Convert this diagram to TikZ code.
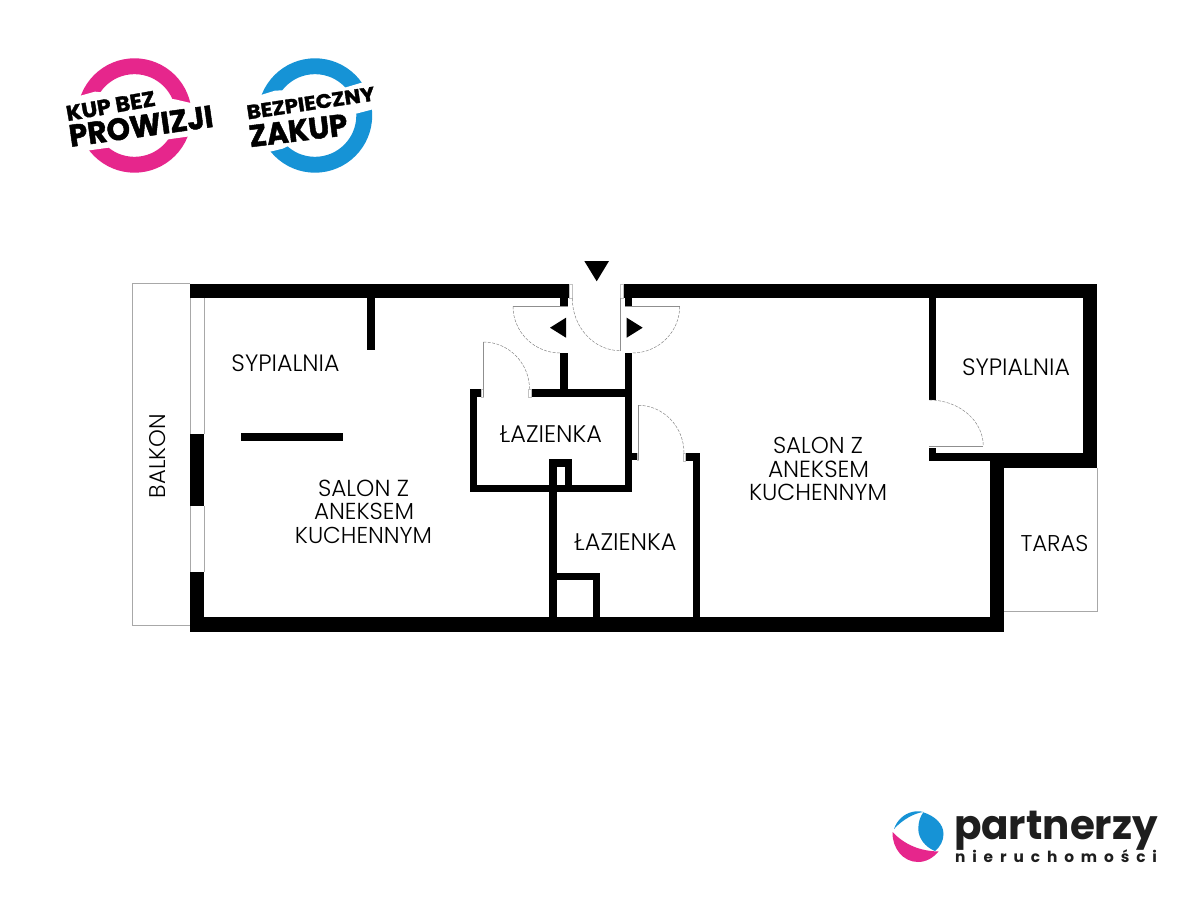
\documentclass[tikz,border=0pt]{standalone}
\usepackage{fontspec}
\usepackage{graphicx}
\setmainfont{Poppins}
\newfontfamily\labfont{Poppins Light}
\newfontfamily\logofont[BoldFeatures={FakeBold=1.5}]{Poppins}
\newfontfamily\brandfont{Poppins}
\definecolor{pinkring}{HTML}{E6268C}
\definecolor{bluering}{HTML}{1693D6}
\definecolor{thin}{HTML}{A8A8A8}
\definecolor{logoblack}{HTML}{1E1E1E}
\newcommand{\wall}[4]{\fill[black] (#1,#2) rectangle (#3,#4);}
\newcommand{\jamb}[4]{\draw[thin!70,line width=.35pt,fill=white] (#1,#2) rectangle (#3,#4);}
\newcommand{\roomlabel}[5]{\node[labelnode,rotate=#5] (#1) at #2 {\resizebox{#3pt}{!}{\labfont #4}};}
\newcommand{\ringlabel}[6]{\node[labelnode,rotate=#5] (#1) at #2 {\resizebox{#3pt}{#6pt}{\logofont\bfseries #4}};}
\tikzset{
  labelnode/.style={inner sep=0pt,outer sep=0pt,text=black},
  thinline/.style={draw=thin,line width=.7pt},
  doorleaf/.style={draw=thin!85!black,line width=.55pt},
  doorarc/.style={draw=thin!75!black,line width=.45pt,dash pattern=on 3pt off 1.4pt},
}
\begin{document}
\begin{tikzpicture}[x=1pt,y=-1pt]
\useasboundingbox (0,0) rectangle (1200,900);
\fill[white] (0,0) rectangle (1200,900);

% ---- ring badges
\begin{scope}[shift={(60,50)},x=.3333pt,y=-.3333pt]
  \fill[pinkring,even odd rule] (223.5,196.5) circle[radius=171.6] (223.5,196.5) circle[radius=124];
  \fill[white] (40,143) -- (105,125) -- (345,148) -- (405,162) -- (405,255) -- (382,260) -- (60,305) -- cycle;
\end{scope}
\begin{scope}[shift={(240,50)},x=.3333pt,y=-.3333pt]
  \fill[bluering,even odd rule] (225,196.5) circle[radius=171.6] (225,196.5) circle[radius=124];
  \fill[white] (40,142) -- (105,122) -- (318,112) -- (375,95) -- (410,175) -- (345,192) -- (128,296) -- (70,310) -- cycle;
\end{scope}
\ringlabel{kup}{(110.7,106)}{90}{KUP BEZ}{10}{15}
\ringlabel{prow}{(141,126)}{145}{PROWIZJI}{8}{22}
\ringlabel{bezp}{(310.7,103)}{129}{BEZPIECZNY}{8.5}{14}
\ringlabel{zakup}{(298.3,130.5)}{99}{ZAKUP}{7}{21.5}

% ---- balcony and terrace outlines
\draw[thinline] (190,283.7) -- (132.5,283.7) -- (132.5,625) -- (190,625);
\draw[thinline] (1097,468) -- (1097,611.7) -- (1004,611.7);

% ---- windows
\draw[thinline] (190.3,298) -- (190.3,434);
\draw[thinline] (204.3,298) -- (204.3,434);
\draw[thinline] (190.3,506) -- (190.3,571.5);
\draw[thinline] (204.3,506) -- (204.3,571.5);

% ---- outer walls
\wall{190}{284}{569}{298.3}
\wall{623.3}{284}{1097}{298.3}
\wall{190}{434.3}{204.3}{506}
\wall{190}{571.5}{204.3}{631.7}
\wall{190}{617.3}{1004.3}{631.7}
\wall{1082.7}{284}{1097}{468.3}
\wall{990}{453.3}{1097}{468.3}
\wall{990}{453.3}{1004.3}{631.7}

% ---- left room partitions
\wall{367.3}{298}{375}{349.5}
\wall{240.7}{433.3}{343.3}{441}

% ---- entrance stubs and corridor
\wall{560.3}{298}{567.7}{306.3}
\wall{625}{298}{632.3}{306.3}
\wall{560.3}{353.3}{567.7}{392}
\wall{625}{353.3}{632.3}{491.7}
\wall{530.7}{389.3}{632.3}{396.7}

% ---- first bathroom box
\wall{470}{389.3}{480.7}{396.7}
\wall{470}{389.3}{477.3}{491.7}
\wall{470}{484.5}{632.3}{491.9}
\wall{549.3}{459.3}{572.3}{467.3}
\wall{549.3}{459.3}{556.7}{617.5}
\wall{565}{459.3}{572.3}{491}

% ---- second bathroom
\wall{549.3}{572.7}{600}{580}
\wall{592.7}{572.7}{600}{617.5}
\wall{685}{453.3}{700}{460.7}
\wall{692.7}{453.3}{700}{617.5}
\wall{632}{453.3}{636.7}{460}

% ---- right bedroom partition
\wall{929}{298}{936.3}{400}
\wall{929}{447.7}{936.3}{461.3}
\wall{929}{453.3}{1000}{461.3}

% ---- door jambs
\jamb{569}{284}{572.3}{298.3}
\jamb{620}{284}{623.3}{298.3}
\jamb{480.7}{389.3}{483.3}{396.7}
\jamb{528.3}{389.3}{530.7}{396.7}
\jamb{636.7}{453.3}{638.3}{460}
\jamb{683.3}{453.3}{685}{460.7}
\fill[thin] (560.3,304.5) rectangle (567.7,306.3);
\fill[thin] (625,304.5) rectangle (632.3,306.3);
\fill[thin] (560.3,353.3) rectangle (567.7,355);
\fill[thin] (625,353.3) rectangle (632.3,355);
\fill[thin] (929,398.7) rectangle (936.3,400);

% ---- door leaves
\draw[doorleaf] (513,306.3) -- (567.7,306.3);
\draw[doorleaf] (620.3,298.3) -- (620.3,350.7);
\draw[doorleaf] (625,306.3) -- (679.7,306.3);
\draw[doorleaf] (483.3,342) -- (483.3,396.7);
\draw[doorleaf] (638.3,405.3) -- (638.3,460);
\draw[doorleaf] (929.3,446) -- (983.3,446);

% ---- door swings
\draw[doorarc] (513,306.3) .. controls (513,332) and (534.3,353) .. (560.3,353);
\draw[doorarc] (572.3,298.3) .. controls (572.3,327.1) and (593.9,350.7) .. (620.3,350.7);
\draw[doorarc] (679.7,306.3) .. controls (679.7,332) and (658.4,353) .. (632.3,353);
\draw[doorarc] (483.3,342) .. controls (508.7,342) and (529.5,363.2) .. (529.5,389);
\draw[doorarc] (638.3,405.3) .. controls (663.4,405.3) and (684,426.8) .. (684,453);
\draw[doorarc] (929.3,400) .. controls (959,400) and (983.3,420.7) .. (983.3,446);

% ---- entrance arrows
\fill[black] (584.3,261) -- (609,261) -- (596.7,281.3) -- cycle;
\fill[black] (566,317.7) -- (566,337.7) -- (550,327.7) -- cycle;
\fill[black] (626.7,317.7) -- (626.7,337.7) -- (642.7,327.7) -- cycle;

% ---- room labels
\roomlabel{syp1}{(285.5,363)}{108}{SYPIALNIA}{0}
\roomlabel{balkon}{(158,456)}{84}{BALKON}{90}
\roomlabel{salonA}{(363.5,488)}{91}{SALON Z}{0}
\roomlabel{anekA}{(364,511.5)}{100}{ANEKSEM}{0}
\roomlabel{kuchA}{(363.5,535)}{137}{KUCHENNYM}{0}
\roomlabel{lazA}{(551,434.5)}{102}{ŁAZIENKA}{0}
\roomlabel{lazB}{(625.5,542.5)}{102}{ŁAZIENKA}{0}
\roomlabel{salonB}{(818,445)}{90}{SALON Z}{0}
\roomlabel{anekB}{(818.5,469)}{101}{ANEKSEM}{0}
\roomlabel{kuchB}{(818,492)}{138}{KUCHENNYM}{0}
\roomlabel{syp2}{(1016,367.5)}{108}{SYPIALNIA}{0}
\roomlabel{taras}{(1054.5,543.5)}{68}{TARAS}{0}

% ---- company logo
\fill[bluering] (923.3,812.3) .. controls (935,816) and (943.5,824) .. (943.5,834)
  .. controls (943.5,841) and (940,847) .. (935,851)
  .. controls (925,847) and (918.3,838) .. (918.3,829)
  .. controls (918.3,822) and (920,817) .. (923.3,812.3) -- cycle;
\fill[bluering] (894,829) .. controls (897,820) and (904,814) .. (912,812)
  .. controls (916,811) and (920,811) .. (923.3,812)
  .. controls (915,813) and (903,819) .. (894,829) -- cycle;
\fill[pinkring] (892.5,832) .. controls (892,848) and (903,862) .. (918,862)
  .. controls (926,862) and (933,858) .. (938.5,851.5)
  .. controls (920,851) and (905,845) .. (892.5,832) -- cycle;
\node[labelnode,text=logoblack,anchor=base west] (partnerzy) at (954,839)
  {\scalebox{.92}[.93]{\brandfont\bfseries\fontsize{44}{44}\selectfont partnerzy}};
\node[labelnode,text=logoblack,anchor=base west] (nieruch) at (955,862)
  {\resizebox{202pt}{!}{\brandfont\bfseries\fontsize{15}{15}\selectfont\addfontfeature{LetterSpace=45}nieruchomości}};
\end{tikzpicture}
\end{document}
